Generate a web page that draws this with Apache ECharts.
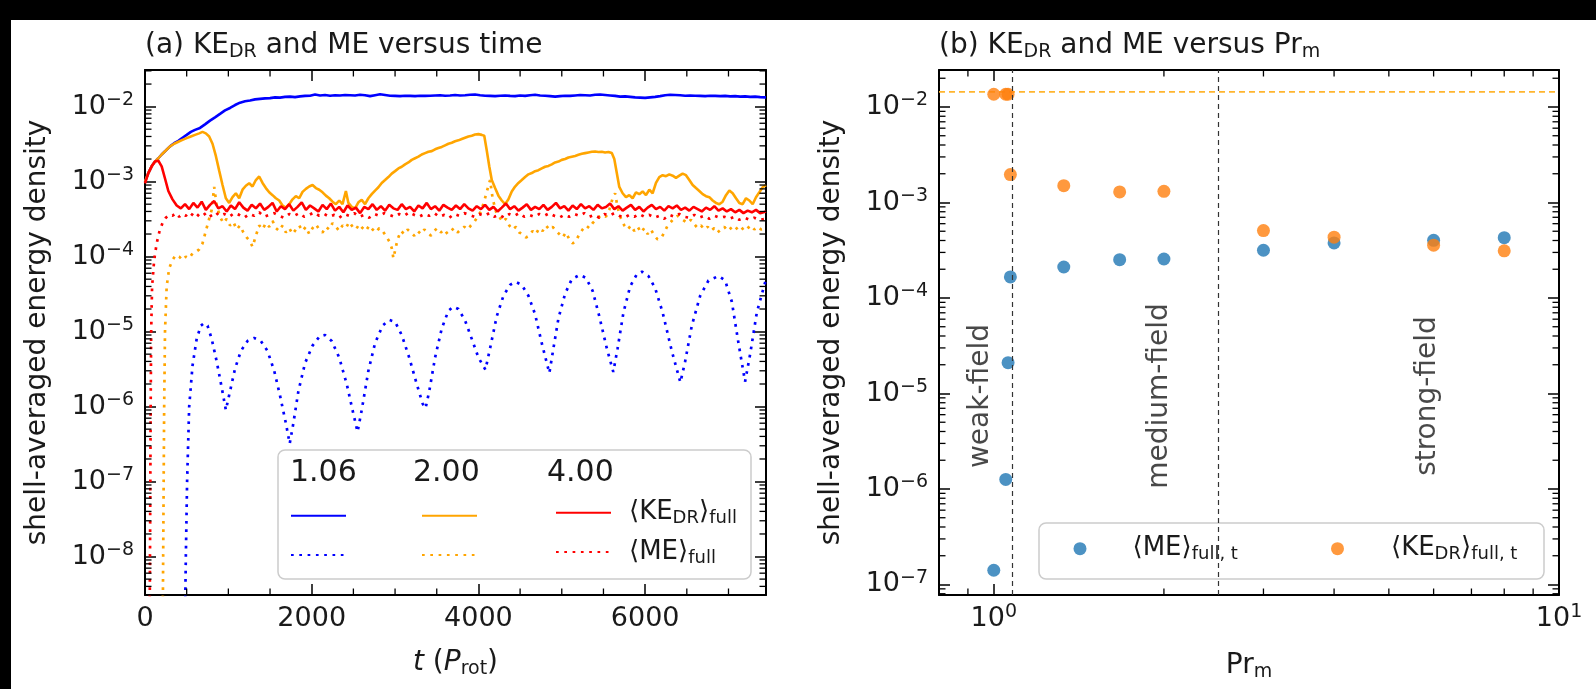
<!DOCTYPE html>
<html><head><meta charset="utf-8">
<script src="https://cdn.jsdelivr.net/npm/echarts@6/dist/echarts.min.js"></script>
<style>html,body{margin:0;padding:0;background:#fff}#c{width:1596px;height:689px}</style>
</head><body><div id="c"></div>
<script>
const FONT = 'DejaVu Sans';
const TXT = '#1a1a1a';

// ---------- panel (a): energy vs time ----------
const keDR_106 = [[0,1.0e-3],[40,1.3e-3],[80,1.6e-3],[120,1.85e-3],[160,2.05e-3],[200,2.3e-3],[250,2.6e-3],[300,2.95e-3],[350,3.25e-3],[400,3.5e-3],[450,3.85e-3],[500,4.2e-3],[550,4.6e-3],[600,4.9e-3],[660,5.2e-3],[720,5.8e-3],[780,6.5e-3],[840,7.2e-3],[900,8.0e-3],[960,8.9e-3],[1020,9.6e-3],[1080,1.05e-2],[1140,1.13e-2],[1200,1.18e-2],[1260,1.21e-2],[1320,1.25e-2],[1380,1.27e-2],[1440,1.29e-2],[1500,1.3e-2],[1560,1.33e-2],[1620,1.32e-2],[1680,1.35e-2],[1740,1.36e-2],[1800,1.34e-2],[1860,1.37e-2],[1920,1.39e-2],[1980,1.4e-2],[2040,1.45e-2],[2100,1.41e-2],[2160,1.43e-2],[2220,1.4e-2],[2280,1.42e-2],[2340,1.41e-2],[2400,1.43e-2],[2460,1.42e-2],[2520,1.41e-2],[2580,1.44e-2],[2640,1.42e-2],[2700,1.38e-2],[2760,1.42e-2],[2820,1.46e-2],[2880,1.43e-2],[2940,1.4e-2],[3000,1.39e-2],[3060,1.38e-2],[3120,1.4e-2],[3180,1.39e-2],[3240,1.38e-2],[3300,1.4e-2],[3360,1.39e-2],[3420,1.4e-2],[3480,1.41e-2],[3540,1.42e-2],[3600,1.4e-2],[3660,1.41e-2],[3720,1.43e-2],[3780,1.41e-2],[3840,1.42e-2],[3900,1.44e-2],[3960,1.45e-2],[4020,1.42e-2],[4080,1.4e-2],[4140,1.39e-2],[4200,1.38e-2],[4260,1.4e-2],[4320,1.41e-2],[4380,1.39e-2],[4440,1.38e-2],[4500,1.41e-2],[4560,1.39e-2],[4620,1.42e-2],[4680,1.44e-2],[4740,1.41e-2],[4800,1.4e-2],[4860,1.38e-2],[4920,1.36e-2],[4980,1.38e-2],[5040,1.4e-2],[5100,1.39e-2],[5160,1.41e-2],[5220,1.43e-2],[5280,1.42e-2],[5340,1.41e-2],[5400,1.44e-2],[5460,1.45e-2],[5520,1.43e-2],[5580,1.41e-2],[5640,1.39e-2],[5700,1.36e-2],[5760,1.37e-2],[5820,1.35e-2],[5880,1.33e-2],[5940,1.32e-2],[6000,1.31e-2],[6060,1.33e-2],[6120,1.35e-2],[6180,1.38e-2],[6240,1.42e-2],[6300,1.44e-2],[6360,1.43e-2],[6420,1.42e-2],[6480,1.4e-2],[6540,1.41e-2],[6600,1.4e-2],[6660,1.39e-2],[6720,1.38e-2],[6780,1.4e-2],[6840,1.39e-2],[6900,1.38e-2],[6960,1.39e-2],[7020,1.37e-2],[7080,1.38e-2],[7140,1.36e-2],[7200,1.37e-2],[7260,1.35e-2],[7320,1.36e-2],[7380,1.34e-2],[7450,1.33e-2]];

const me_106 = [[478,1e-9],[490,1e-8],[505,1e-7],[530,1e-6],[570,3.5e-6],[620,8e-6],[670,1.2e-5],[710,1.3e-5],[750,1.2e-5],[800,8e-6],[860,4e-6],[920,1.8e-6],[970,9e-7],[1020,1.6e-6],[1080,3.2e-6],[1150,5.5e-6],[1230,7.5e-6],[1310,8.2e-6],[1390,7.5e-6],[1470,5.5e-6],[1550,3e-6],[1620,1.4e-6],[1690,6e-7],[1736,3.2e-7],[1780,6e-7],[1840,1.6e-6],[1920,3.8e-6],[2010,6.5e-6],[2100,8.8e-6],[2160,9e-6],[2240,7.5e-6],[2330,4.5e-6],[2420,2e-6],[2500,8e-7],[2550,4.6e-7],[2600,9e-7],[2680,3e-6],[2760,7e-6],[2850,1.2e-5],[2930,1.43e-5],[3000,1.35e-5],[3080,9e-6],[3170,4.5e-6],[3260,2e-6],[3330,1.1e-6],[3366,9.5e-7],[3410,1.6e-6],[3480,4.5e-6],[3560,1.1e-5],[3640,1.9e-5],[3700,2.15e-5],[3760,2e-5],[3840,1.4e-5],[3920,8e-6],[4000,4.5e-6],[4084,3.1e-6],[4140,6e-6],[4220,1.6e-5],[4300,3e-5],[4380,4.2e-5],[4445,4.6e-5],[4520,4.2e-5],[4600,3e-5],[4680,1.7e-5],[4760,7e-6],[4851,2.8e-6],[4900,6e-6],[4960,1.5e-5],[5040,3.2e-5],[5120,5e-5],[5216,5.7e-5],[5290,5.2e-5],[5370,3.5e-5],[5450,1.6e-5],[5540,6e-6],[5618,2.9e-6],[5670,6e-6],[5740,1.8e-5],[5820,4e-5],[5900,5.8e-5],[5963,6.3e-5],[6040,5.5e-5],[6120,3.8e-5],[6210,1.8e-5],[6320,5.5e-6],[6423,2.1e-6],[6480,4e-6],[6560,1.2e-5],[6660,3e-5],[6760,4.8e-5],[6880,5.5e-5],[6960,4.8e-5],[7040,2.5e-5],[7120,7e-6],[7199,2.15e-6],[7260,5e-6],[7340,1.8e-5],[7450,5e-5]];

const keDR_200 = [[0,1.0e-3],[40,1.3e-3],[80,1.6e-3],[120,1.85e-3],[160,2.05e-3],[200,2.3e-3],[250,2.6e-3],[300,2.95e-3],[350,3.2e-3],[400,3.4e-3],[450,3.6e-3],[500,3.8e-3],[550,4.0e-3],[600,4.2e-3],[650,4.4e-3],[690,4.6e-3],[730,4.4e-3],[770,4.0e-3],[810,3.2e-3],[850,2.2e-3],[890,1.4e-3],[930,9.0e-4],[970,6.0e-4],[1010,5.2e-4],[1050,6.2e-4],[1090,7.0e-4],[1130,6.0e-4],[1170,7.8e-4],[1210,8.8e-4],[1250,9.5e-4],[1290,8.6e-4],[1330,1.05e-3],[1370,1.17e-3],[1410,9.6e-4],[1450,8.2e-4],[1490,7.2e-4],[1530,6.6e-4],[1570,6.0e-4],[1610,5.6e-4],[1650,4.8e-4],[1690,4.5e-4],[1730,5.0e-4],[1770,5.8e-4],[1810,6.4e-4],[1850,6.0e-4],[1890,7.3e-4],[1930,8.0e-4],[1970,8.6e-4],[2010,9.0e-4],[2050,8.2e-4],[2090,7.8e-4],[2130,7.2e-4],[2170,6.5e-4],[2210,6.0e-4],[2250,5.4e-4],[2290,5.0e-4],[2330,5.6e-4],[2370,5.0e-4],[2410,7.5e-4],[2440,5.2e-4],[2480,4.6e-4],[2520,4.4e-4],[2560,5.3e-4],[2600,5.7e-4],[2640,5.0e-4],[2680,6.0e-4],[2720,6.8e-4],[2760,7.6e-4],[2800,8.4e-4],[2840,9.6e-4],[2880,1.05e-3],[2920,1.15e-3],[2960,1.28e-3],[3000,1.38e-3],[3040,1.5e-3],[3080,1.58e-3],[3120,1.7e-3],[3160,1.8e-3],[3200,1.95e-3],[3240,2.05e-3],[3280,2.15e-3],[3320,2.3e-3],[3360,2.4e-3],[3400,2.5e-3],[3440,2.55e-3],[3480,2.7e-3],[3520,2.8e-3],[3560,2.9e-3],[3600,3.05e-3],[3640,3.2e-3],[3680,3.3e-3],[3720,3.45e-3],[3760,3.55e-3],[3800,3.7e-3],[3840,3.85e-3],[3880,4.0e-3],[3920,4.1e-3],[3960,4.25e-3],[4000,4.3e-3],[4040,4.2e-3],[4070,4.1e-3],[4100,2.6e-3],[4130,1.6e-3],[4160,1.05e-3],[4200,8.2e-4],[4240,6.5e-4],[4280,5.6e-4],[4320,5.0e-4],[4360,5.8e-4],[4400,7.4e-4],[4440,8.6e-4],[4480,9.6e-4],[4520,1.05e-3],[4560,1.15e-3],[4600,1.25e-3],[4640,1.3e-3],[4680,1.38e-3],[4720,1.42e-3],[4760,1.5e-3],[4800,1.58e-3],[4840,1.62e-3],[4880,1.7e-3],[4920,1.8e-3],[4960,1.85e-3],[5000,1.95e-3],[5040,2.0e-3],[5080,2.1e-3],[5120,2.15e-3],[5160,2.2e-3],[5200,2.28e-3],[5240,2.35e-3],[5280,2.4e-3],[5320,2.45e-3],[5360,2.5e-3],[5400,2.52e-3],[5440,2.48e-3],[5480,2.5e-3],[5520,2.45e-3],[5560,2.48e-3],[5600,2.4e-3],[5630,2.0e-3],[5660,1.3e-3],[5690,8.5e-4],[5730,7.0e-4],[5770,6.2e-4],[5810,6.6e-4],[5850,6.0e-4],[5890,7.2e-4],[5930,6.8e-4],[5970,7.4e-4],[6010,6.6e-4],[6050,7.8e-4],[6090,7.0e-4],[6130,9.6e-4],[6170,1.15e-3],[6210,1.22e-3],[6250,1.18e-3],[6290,1.25e-3],[6330,1.2e-3],[6370,1.12e-3],[6410,1.2e-3],[6450,1.28e-3],[6490,1.22e-3],[6530,1.05e-3],[6570,9.0e-4],[6610,8.2e-4],[6650,7.5e-4],[6690,6.8e-4],[6730,6.4e-4],[6770,6.2e-4],[6810,5.6e-4],[6850,5.2e-4],[6890,5.0e-4],[6930,5.4e-4],[6970,6.6e-4],[7010,7.6e-4],[7050,7.0e-4],[7090,6.0e-4],[7130,5.2e-4],[7170,5.0e-4],[7210,6.0e-4],[7250,5.6e-4],[7290,5.0e-4],[7330,6.2e-4],[7370,7.2e-4],[7410,8.4e-4],[7450,9.0e-4]];

const me_200 = [[212,1e-9],[218,1e-8],[224,1e-7],[230,1e-6],[240,1e-5],[260,4e-5],[290,7e-5],[330,9e-5],[370,1.05e-4],[410,1.0e-4],[450,9.0e-5],[490,1.0e-4],[530,9.5e-5],[570,1.1e-4],[610,1.15e-4],[650,1.25e-4],[690,1.5e-4],[730,2.2e-4],[770,3.2e-4],[800,4.2e-4],[830,8.5e-4],[860,4.8e-4],[900,3.4e-4],[940,2.8e-4],[980,3.2e-4],[1020,2.6e-4],[1060,2.9e-4],[1100,2.3e-4],[1140,2.6e-4],[1180,2.1e-4],[1220,1.8e-4],[1260,1.6e-4],[1290,1.35e-4],[1330,1.9e-4],[1370,2.6e-4],[1410,2.3e-4],[1450,2.8e-4],[1490,2.5e-4],[1530,3.0e-4],[1570,2.4e-4],[1610,2.2e-4],[1650,2.6e-4],[1690,2.1e-4],[1730,2.4e-4],[1770,2.0e-4],[1810,2.3e-4],[1850,2.6e-4],[1890,2.2e-4],[1930,2.5e-4],[1970,2.0e-4],[2010,2.4e-4],[2050,2.7e-4],[2090,2.3e-4],[2130,2.1e-4],[2170,2.5e-4],[2210,2.3e-4],[2250,2.8e-4],[2290,2.5e-4],[2330,2.2e-4],[2370,2.6e-4],[2410,2.4e-4],[2450,2.9e-4],[2490,2.5e-4],[2530,2.3e-4],[2570,2.7e-4],[2610,2.4e-4],[2650,2.2e-4],[2690,2.6e-4],[2730,2.3e-4],[2770,2.1e-4],[2810,2.4e-4],[2850,2.2e-4],[2890,1.9e-4],[2930,1.6e-4],[2960,1.3e-4],[2980,9.5e-5],[3000,1.2e-4],[3030,1.7e-4],[3070,2.2e-4],[3110,2.0e-4],[3150,2.3e-4],[3190,2.1e-4],[3230,1.9e-4],[3270,2.2e-4],[3310,2.0e-4],[3350,2.3e-4],[3390,2.1e-4],[3430,1.9e-4],[3470,2.2e-4],[3510,2.4e-4],[3550,2.1e-4],[3590,2.3e-4],[3630,2.0e-4],[3670,2.2e-4],[3710,2.4e-4],[3750,2.1e-4],[3790,2.3e-4],[3830,2.5e-4],[3870,2.3e-4],[3910,2.6e-4],[3950,2.9e-4],[3990,3.4e-4],[4030,4.0e-4],[4070,5.5e-4],[4110,8.0e-4],[4140,1.05e-3],[4170,6.0e-4],[4210,4.0e-4],[4250,3.4e-4],[4290,2.9e-4],[4330,3.2e-4],[4370,2.6e-4],[4410,2.3e-4],[4450,2.5e-4],[4490,2.1e-4],[4530,2.0e-4],[4570,1.8e-4],[4610,1.9e-4],[4650,2.2e-4],[4690,2.0e-4],[4730,2.4e-4],[4770,2.2e-4],[4810,2.6e-4],[4850,2.3e-4],[4890,2.5e-4],[4930,2.2e-4],[4970,2.0e-4],[5010,1.8e-4],[5050,2.1e-4],[5090,1.7e-4],[5130,1.5e-4],[5170,1.6e-4],[5210,2.0e-4],[5250,2.3e-4],[5290,2.6e-4],[5330,2.4e-4],[5370,2.8e-4],[5410,3.1e-4],[5450,3.4e-4],[5490,3.6e-4],[5530,3.4e-4],[5570,4.2e-4],[5610,6.0e-4],[5640,7.0e-4],[5670,4.5e-4],[5710,3.2e-4],[5750,2.6e-4],[5790,2.3e-4],[5830,2.6e-4],[5870,2.2e-4],[5910,2.5e-4],[5950,2.1e-4],[5990,2.4e-4],[6030,2.0e-4],[6070,2.3e-4],[6110,1.9e-4],[6150,1.7e-4],[6190,1.75e-4],[6230,2.1e-4],[6270,2.6e-4],[6310,2.9e-4],[6350,3.3e-4],[6390,3.5e-4],[6430,3.2e-4],[6470,3.0e-4],[6510,2.8e-4],[6550,3.1e-4],[6590,2.7e-4],[6630,2.4e-4],[6670,2.6e-4],[6710,2.3e-4],[6750,2.5e-4],[6790,2.2e-4],[6830,2.4e-4],[6870,2.1e-4],[6910,2.3e-4],[6950,2.5e-4],[6990,2.2e-4],[7030,2.4e-4],[7070,2.6e-4],[7110,2.3e-4],[7150,2.5e-4],[7190,2.2e-4],[7230,2.4e-4],[7270,2.6e-4],[7310,2.3e-4],[7350,2.5e-4],[7390,2.3e-4],[7450,2.4e-4]];

const keDR_400 = [[0,9.5e-4],[40,1.3e-3],[80,1.6e-3],[120,1.85e-3],[160,1.9e-3],[200,1.6e-3],[240,1.1e-3],[280,7.5e-4],[330,5.8e-4],[380,4.8e-4],[430,4.4e-4],[480,5.0e-4],[530,4.3e-4],[580,5.2e-4],[630,4.5e-4],[680,5.4e-4],[730,4.2e-4],[780,4.9e-4],[830,5.5e-4],[880,4.4e-4],[930,4.7e-4],[980,4.0e-4],[1030,4.8e-4],[1080,4.3e-4],[1130,5.3e-4],[1180,4.5e-4],[1230,4.1e-4],[1280,4.9e-4],[1330,4.4e-4],[1380,5.1e-4],[1430,4.2e-4],[1480,4.6e-4],[1530,5.2e-4],[1580,4.0e-4],[1630,4.7e-4],[1680,4.3e-4],[1730,5.0e-4],[1780,4.1e-4],[1830,4.6e-4],[1880,5.3e-4],[1930,4.2e-4],[1980,4.8e-4],[2030,4.4e-4],[2080,4.0e-4],[2130,4.9e-4],[2180,4.3e-4],[2230,5.1e-4],[2280,4.1e-4],[2330,4.6e-4],[2380,3.9e-4],[2430,4.8e-4],[2480,4.2e-4],[2530,4.5e-4],[2580,3.8e-4],[2630,4.6e-4],[2680,4.3e-4],[2730,5.0e-4],[2780,4.2e-4],[2830,4.7e-4],[2880,4.1e-4],[2930,4.9e-4],[2980,4.4e-4],[3030,4.2e-4],[3080,5.0e-4],[3130,4.3e-4],[3180,4.6e-4],[3230,4.0e-4],[3280,4.8e-4],[3330,4.4e-4],[3380,5.2e-4],[3430,4.3e-4],[3480,4.7e-4],[3530,4.1e-4],[3580,4.9e-4],[3630,4.5e-4],[3680,4.2e-4],[3730,4.8e-4],[3780,4.3e-4],[3830,5.0e-4],[3880,4.4e-4],[3930,4.1e-4],[3980,4.7e-4],[4030,4.3e-4],[4080,4.9e-4],[4130,4.2e-4],[4180,4.6e-4],[4230,4.0e-4],[4280,4.5e-4],[4330,5.1e-4],[4380,4.3e-4],[4430,4.7e-4],[4480,4.1e-4],[4530,4.5e-4],[4580,5.0e-4],[4630,4.2e-4],[4680,4.6e-4],[4730,4.3e-4],[4780,4.9e-4],[4830,4.2e-4],[4880,4.6e-4],[4930,5.2e-4],[4980,4.4e-4],[5030,4.7e-4],[5080,4.1e-4],[5130,4.8e-4],[5180,4.3e-4],[5230,5.0e-4],[5280,4.4e-4],[5330,4.7e-4],[5380,4.2e-4],[5430,4.9e-4],[5480,4.4e-4],[5530,4.6e-4],[5580,5.1e-4],[5630,4.3e-4],[5680,4.7e-4],[5730,4.1e-4],[5780,4.5e-4],[5830,4.9e-4],[5880,4.2e-4],[5930,4.6e-4],[5980,4.0e-4],[6030,4.5e-4],[6080,4.9e-4],[6130,4.3e-4],[6180,4.6e-4],[6230,4.1e-4],[6280,4.7e-4],[6330,4.4e-4],[6380,4.8e-4],[6430,4.2e-4],[6480,4.5e-4],[6530,4.1e-4],[6580,4.6e-4],[6630,4.3e-4],[6680,4.0e-4],[6730,4.5e-4],[6780,4.2e-4],[6830,4.7e-4],[6880,4.1e-4],[6930,4.4e-4],[6980,4.0e-4],[7030,4.3e-4],[7080,3.9e-4],[7130,4.2e-4],[7180,3.8e-4],[7230,4.1e-4],[7280,3.9e-4],[7330,4.2e-4],[7380,3.8e-4],[7450,4.0e-4]];

const me_400 = [[55,1e-9],[60,1e-8],[64,1e-7],[68,1e-6],[74,1e-5],[85,4e-5],[110,9e-5],[140,1.5e-4],[175,2.2e-4],[210,2.8e-4],[250,3.3e-4],[290,3.6e-4],[330,3.5e-4],[370,3.8e-4],[410,3.4e-4],[450,3.7e-4],[490,3.5e-4],[530,3.9e-4],[570,3.6e-4],[610,3.3e-4],[650,3.7e-4],[690,3.5e-4],[730,3.8e-4],[770,3.4e-4],[810,3.6e-4],[850,3.9e-4],[890,3.5e-4],[950,3.7e-4],[1010,3.4e-4],[1070,3.8e-4],[1130,3.6e-4],[1190,3.3e-4],[1250,3.7e-4],[1310,3.5e-4],[1370,3.9e-4],[1430,3.4e-4],[1490,3.6e-4],[1550,3.8e-4],[1610,3.5e-4],[1670,3.3e-4],[1730,3.7e-4],[1790,3.5e-4],[1850,3.8e-4],[1910,3.4e-4],[1970,3.6e-4],[2030,3.9e-4],[2090,3.5e-4],[2150,3.7e-4],[2210,3.4e-4],[2270,3.6e-4],[2330,3.3e-4],[2390,3.7e-4],[2450,3.5e-4],[2510,3.8e-4],[2570,3.4e-4],[2630,3.6e-4],[2690,3.3e-4],[2750,3.7e-4],[2810,3.5e-4],[2870,3.8e-4],[2930,3.6e-4],[2990,3.4e-4],[3050,3.7e-4],[3110,3.5e-4],[3170,3.9e-4],[3230,3.6e-4],[3290,3.4e-4],[3350,3.7e-4],[3410,3.5e-4],[3470,3.8e-4],[3530,3.4e-4],[3590,3.6e-4],[3650,3.3e-4],[3710,3.7e-4],[3770,3.5e-4],[3830,3.8e-4],[3890,3.6e-4],[3950,3.4e-4],[4010,3.7e-4],[4070,3.5e-4],[4130,3.8e-4],[4190,3.4e-4],[4250,3.6e-4],[4310,3.3e-4],[4370,3.7e-4],[4430,3.5e-4],[4490,3.8e-4],[4550,3.4e-4],[4610,3.6e-4],[4670,3.4e-4],[4730,3.7e-4],[4790,3.5e-4],[4850,3.8e-4],[4910,3.5e-4],[4970,3.3e-4],[5030,3.6e-4],[5090,3.4e-4],[5150,3.7e-4],[5210,3.5e-4],[5270,3.8e-4],[5330,3.4e-4],[5390,3.6e-4],[5450,3.3e-4],[5510,3.7e-4],[5570,3.5e-4],[5630,3.8e-4],[5690,3.5e-4],[5750,3.3e-4],[5810,3.6e-4],[5870,3.4e-4],[5930,3.7e-4],[5990,3.4e-4],[6050,3.6e-4],[6110,3.3e-4],[6170,3.5e-4],[6230,3.2e-4],[6290,3.6e-4],[6350,3.4e-4],[6410,3.7e-4],[6470,3.4e-4],[6530,3.3e-4],[6590,3.6e-4],[6650,3.3e-4],[6710,3.5e-4],[6770,3.2e-4],[6830,3.5e-4],[6890,3.3e-4],[6950,3.4e-4],[7010,3.2e-4],[7070,3.4e-4],[7130,3.1e-4],[7190,3.3e-4],[7250,3.1e-4],[7310,3.3e-4],[7370,3.1e-4],[7450,3.2e-4]];

const prmCases = ['1.06', '2.00', '4.00'];
const tTicks = [0, 2000, 4000, 6000];
const tRange = [0, 7450];
const eRangeA = [3.07e-9, 0.0308];

// ---------- panel (b): energy vs Pr_m ----------
const prm      = [1.0, 1.05, 1.06, 1.07, 1.33, 1.67, 2.0, 3.0, 4.0, 6.0, 8.0];
const meFullT  = [1.41e-7, 1.26e-6, 2.1e-5, 1.66e-4, 2.11e-4, 2.52e-4, 2.56e-4, 3.16e-4, 3.77e-4, 4.02e-4, 4.28e-4];
const keFullT  = [1.36e-2, 1.36e-2, 1.36e-2, 1.96e-3, 1.5e-3, 1.29e-3, 1.31e-3, 5.08e-4, 4.33e-4, 3.57e-4, 3.12e-4];
const regimeBounds = [1.08, 2.5];
const keHydro = 0.0144;
const regimeNames = ['weak-field', 'medium-field', 'strong-field'];
const regimePrm   = [0.947, 1.965, 5.86];
const regimeE     = [9.4e-6, 9.4e-6, 9.4e-6];
const prRange = [0.8, 10];
const eRangeB = [7.76e-8, 0.0244];

// ---------- helpers ----------
function powLabel(v) {
  const e = Math.log10(v), r = Math.round(e);
  if (Math.abs(e - r) > 1e-6) return '';
  return '{b|10}{s|' + (r < 0 ? '\u2212' + (-r) : r) + '}';
}
const powRich = {
  b: {fontFamily: FONT, fontSize: 27, color: TXT},
  s: {fontFamily: FONT, fontSize: 19, color: TXT, padding: [0, 0, 13, 0]}
};
function logMinor(lo, hi) {
  const out = [];
  for (let e = Math.floor(Math.log10(lo)); e <= Math.ceil(Math.log10(hi)); e++)
    for (let k = 2; k <= 9; k++) {
      const v = k * Math.pow(10, e);
      if (v > lo * 1.001 && v < hi * 0.999) out.push(v);
    }
  return out;
}
const tMinor = [500, 1000, 1500, 2500, 3000, 3500, 4500, 5000, 5500, 6500, 7000];

function minorSeries(xi, yi, vals, dir, ref) {
  return {
    type: 'custom', xAxisIndex: xi, yAxisIndex: yi, silent: true, z: 6, clip: false,
    data: vals.map(v => dir === 'y' ? [ref, v] : [v, ref]),
    renderItem: function (params, api) {
      const cs = params.coordSys, L = 6.5;
      const p = api.coord([api.value(0), api.value(1)]);
      const st = {stroke: '#000', lineWidth: 1.3};
      if (dir === 'y') return {type: 'group', children: [
        {type: 'line', shape: {x1: cs.x, y1: p[1], x2: cs.x + L, y2: p[1]}, style: st},
        {type: 'line', shape: {x1: cs.x + cs.width - L, y1: p[1], x2: cs.x + cs.width, y2: p[1]}, style: st}]};
      return {type: 'group', children: [
        {type: 'line', shape: {x1: p[0], y1: cs.y + cs.height, x2: p[0], y2: cs.y + cs.height - L}, style: st},
        {type: 'line', shape: {x1: p[0], y1: cs.y, x2: p[0], y2: cs.y + L}, style: st}]};
    }
  };
}

const axLine = {show: true, onZero: false, lineStyle: {color: '#000', width: 2}};
const axTick = {show: true, inside: true, length: 11, lineStyle: {color: '#000', width: 1.5}};
const noLabel = {show: false};
const nameStyle = {fontFamily: FONT, fontSize: 28, color: TXT,
  rich: {i: {fontFamily: FONT, fontSize: 28, fontStyle: 'italic', color: TXT},
         sub: {fontFamily: FONT, fontSize: 19, color: TXT, padding: [14, 0, 0, 0]}}};

const C = {blue: '#0000ff', orange: '#ffa500', red: '#ff0000'};
const solid = c => ({color: c, width: 2.6, type: 'solid'});
const dotted = c => ({color: c, width: 2.7, type: [2.7, 5.6]});
function lineSeries(name, data, ls) {
  return {name, type: 'line', xAxisIndex: 0, yAxisIndex: 0, data, showSymbol: false, symbol: 'none',
    lineStyle: ls, itemStyle: {color: ls.color}, emphasis: {disabled: true}, animation: false};
}

// legends for panel (a)
const legendRich = {
  sub: {fontFamily: FONT, fontSize: 18, color: TXT, padding: [12, 0, 0, 0]}
};
const colX = [290, 421, 555];
const rowCY = [515.7, 555];
const legendNames = [['KE 1.06', 'KE 2.00', 'KE 4.00'], ['ME 1.06', 'ME 2.00', 'ME 4.00']];
const legendText = ['\u27e8KE{sub|DR}\u27e9{sub|full}', '\u27e8ME\u27e9{sub|full}'];
const legends = [];
for (let r = 0; r < 2; r++) for (let c = 0; c < 3; c++) {
  const withText = c === 2;
  legends.push({
    data: [legendNames[r][c]], left: colX[c], top: withText ? rowCY[r] - 16 : rowCY[r] - 7,
    padding: 0, itemWidth: 55, itemHeight: 14, selectedMode: false, orient: 'horizontal',
    itemStyle: {color: 'transparent', borderWidth: 0, opacity: 0},
    formatter: () => withText ? legendText[r] : '',
    textStyle: {fontFamily: FONT, fontSize: 26, color: TXT, rich: legendRich, padding: [0, 0, 0, 13]}
  });
}
legends.push({
  data: ['ME'], left: 1073.5, top: 551.7 - 16, padding: 0, itemWidth: 13, itemHeight: 13, icon: 'circle',
  selectedMode: false, formatter: () => '\u27e8ME\u27e9{sub|full, t}',
  textStyle: {fontFamily: FONT, fontSize: 26, color: TXT, rich: legendRich, padding: [0, 0, 0, 41]}
});
legends.push({
  data: ['KE'], left: 1331, top: 551.7 - 16, padding: 0, itemWidth: 13, itemHeight: 13, icon: 'circle',
  selectedMode: false, formatter: () => '\u27e8KE{sub|DR}\u27e9{sub|full, t}',
  textStyle: {fontFamily: FONT, fontSize: 26, color: TXT, rich: legendRich, padding: [0, 0, 0, 42]}
});

const titleStyle = {fontFamily: FONT, fontSize: 28, fontWeight: 'normal', color: TXT,
  rich: {sub: {fontFamily: FONT, fontSize: 19, color: TXT, padding: [14, 0, 0, 0]}}};

const logY = (gi, rng, pos, withLabel) => ({
  gridIndex: gi, type: 'log', logBase: 10, min: rng[0], max: rng[1], splitNumber: 5, position: pos,
  axisLine: axLine, axisTick: axTick, splitLine: {show: false},
  axisLabel: withLabel ? {margin: 11, formatter: powLabel, rich: powRich} : noLabel,
  name: withLabel ? 'shell-averaged energy density' : '', nameLocation: 'middle', nameGap: 93, nameTextStyle: nameStyle
});

const option = {
  backgroundColor: '#fff',
  animation: false,
  textStyle: {fontFamily: FONT},
  title: [
    {text: '(a) KE{sub|DR} and ME versus time', left: 145, top: 29, padding: 0, textStyle: titleStyle},
    {text: '(b) KE{sub|DR} and ME versus Pr{sub|m}', left: 939, top: 29, padding: 0, textStyle: titleStyle}
  ],
  legend: legends,
  grid: [
    {left: 145, top: 70, width: 621, height: 525},
    {left: 939, top: 70, width: 620, height: 525}
  ],
  xAxis: [
    {gridIndex: 0, type: 'value', min: tRange[0], max: tRange[1], interval: 2000, position: 'bottom',
     axisLine: axLine, axisTick: axTick, splitLine: {show: false},
     axisLabel: {fontFamily: FONT, fontSize: 27, color: TXT, margin: 10,
       formatter: v => tTicks.includes(v) ? String(v) : ''},
     name: '{i|t} ({i|P}{sub|rot})', nameLocation: 'middle', nameGap: 51, nameTextStyle: nameStyle},
    {gridIndex: 0, type: 'value', min: tRange[0], max: tRange[1], interval: 2000, position: 'top',
     axisLine: axLine, axisTick: axTick, axisLabel: noLabel, splitLine: {show: false}},
    {gridIndex: 1, type: 'log', logBase: 10, min: prRange[0], max: prRange[1], splitNumber: 1, position: 'bottom',
     axisLine: axLine, axisTick: axTick, splitLine: {show: false},
     axisLabel: {margin: 8, formatter: powLabel, rich: powRich, showMinLabel: true, showMaxLabel: true},
     name: 'Pr{sub|m}', nameLocation: 'middle', nameGap: 54, nameTextStyle: nameStyle},
    {gridIndex: 1, type: 'log', logBase: 10, min: prRange[0], max: prRange[1], splitNumber: 1, position: 'top',
     axisLine: axLine, axisTick: axTick, axisLabel: noLabel, splitLine: {show: false}}
  ],
  yAxis: [
    logY(0, eRangeA, 'left', true),
    logY(0, eRangeA, 'right', false),
    logY(1, eRangeB, 'left', true),
    logY(1, eRangeB, 'right', false)
  ],
  graphic: [
    {type: 'rect', shape: {x: 0, y: 0, width: 1596, height: 20}, style: {fill: '#000'}, z: 0, silent: true},
    {type: 'rect', shape: {x: 0, y: 0, width: 11, height: 689}, style: {fill: '#000'}, z: 0, silent: true},
    {type: 'rect', shape: {x: 278, y: 450, width: 473, height: 129, r: 7},
     style: {fill: 'rgba(255,255,255,0.85)', stroke: '#cccccc', lineWidth: 1.5}, z: 3, silent: true},
    {type: 'rect', shape: {x: 1039, y: 523, width: 505, height: 56, r: 7},
     style: {fill: 'rgba(255,255,255,0.8)', stroke: '#cccccc', lineWidth: 1.5}, z: 3, silent: true},
    {type: 'text', x: colX[0], y: 473, z: 5, silent: true,
     style: {text: prmCases[0], fontFamily: FONT, fontSize: 30, fill: TXT, verticalAlign: 'middle'}},
    {type: 'text', x: colX[1] - 8, y: 473, z: 5, silent: true,
     style: {text: prmCases[1], fontFamily: FONT, fontSize: 30, fill: TXT, verticalAlign: 'middle'}},
    {type: 'text', x: colX[2] - 8, y: 473, z: 5, silent: true,
     style: {text: prmCases[2], fontFamily: FONT, fontSize: 30, fill: TXT, verticalAlign: 'middle'}}
  ],
  series: [
    lineSeries('KE 1.06', keDR_106, solid(C.blue)),
    lineSeries('ME 1.06', me_106, dotted(C.blue)),
    lineSeries('KE 2.00', keDR_200, solid(C.orange)),
    lineSeries('ME 2.00', me_200, dotted(C.orange)),
    lineSeries('KE 4.00', keDR_400, solid(C.red)),
    lineSeries('ME 4.00', me_400, dotted(C.red)),
    minorSeries(0, 0, logMinor(eRangeA[0], eRangeA[1]), 'y', 0),
    minorSeries(0, 0, tMinor, 'x', 1e-3),
    {name: 'hydro', type: 'line', xAxisIndex: 2, yAxisIndex: 2, symbol: 'none', silent: true, z: 2,
     data: [[prRange[0], keHydro], [prRange[1], keHydro]],
     lineStyle: {color: '#ffb52e', width: 1.6, type: [6, 4]}},
    {name: 'ME', type: 'scatter', xAxisIndex: 2, yAxisIndex: 2, symbolSize: 13,
     itemStyle: {color: '#1f77b4'}, data: prm.map((p, i) => [p, meFullT[i]]), z: 3},
    {name: 'KE', type: 'scatter', xAxisIndex: 2, yAxisIndex: 2, symbolSize: 13,
     itemStyle: {color: '#ff7f0e'}, data: prm.map((p, i) => [p, keFullT[i]]), z: 3,
     markLine: {silent: true, symbol: 'none', label: {show: false}, z: 4, precision: 10,
       data: [
         {xAxis: regimeBounds[0], lineStyle: {color: '#333', width: 1.2, type: [5, 4]}},
         {xAxis: regimeBounds[1], lineStyle: {color: '#333', width: 1.2, type: [5, 4]}}
       ]}},
    {type: 'scatter', xAxisIndex: 2, yAxisIndex: 2, symbolSize: 0, silent: true, z: 5,
     data: regimeNames.map((n, i) => [regimePrm[i], regimeE[i], n]),
     label: {show: true, position: 'inside', rotate: 90, formatter: p => p.data[2],
       fontFamily: FONT, fontSize: 28, color: TXT}},
    minorSeries(2, 2, logMinor(eRangeB[0], eRangeB[1]), 'y', 1),
    minorSeries(2, 2, logMinor(prRange[0], prRange[1]), 'x', 1e-3)
  ]
};
const chart = echarts.init(document.getElementById('c'), null, {renderer: 'canvas'});
chart.setOption(option);
</script></body></html>
